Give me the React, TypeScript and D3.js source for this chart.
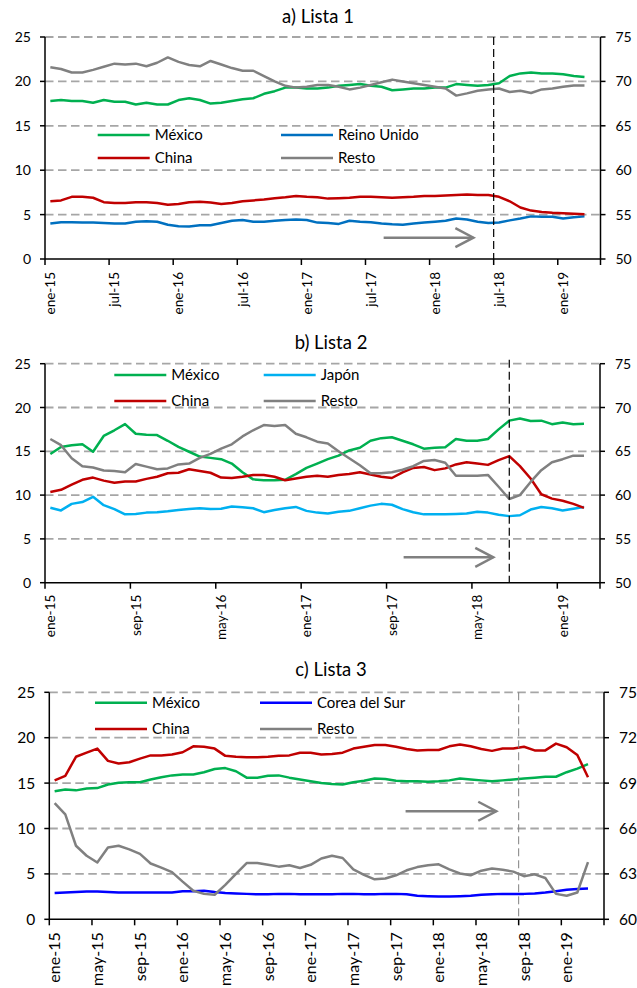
import * as d3 from "d3";

// categorías: ene-15 ... mar-19 (51 meses)
const monthNames = ["ene", "feb", "mar", "abr", "may", "jun", "jul", "ago", "sep", "oct", "nov", "dic"];
const months = d3.range(51).map((i) => `${monthNames[i % 12]}-${15 + Math.floor(i / 12)}`);

const leftTicks = [0, 5, 10, 15, 20, 25];
const rightTicksAB = [50, 55, 60, 65, 70, 75];
const rightTicksC = [60, 63, 66, 69, 72, 75];

// a) Lista 1
const mexico1 = [17.8, 17.9, 17.8, 17.8, 17.6, 17.9, 17.7, 17.7, 17.4, 17.6, 17.4, 17.4, 17.9, 18.1, 17.9, 17.5, 17.6, 17.8, 18.0, 18.1, 18.6, 18.9, 19.3, 19.3, 19.2, 19.2, 19.3, 19.5, 19.6, 19.7, 19.5, 19.4, 19.0, 19.1, 19.2, 19.2, 19.3, 19.3, 19.7, 19.6, 19.5, 19.6, 19.8, 20.6, 20.9, 21.0, 20.9, 20.9, 20.8, 20.6, 20.5];
const reinoUnido1 = [4.0, 4.15, 4.15, 4.1, 4.1, 4.05, 4.0, 4.0, 4.2, 4.25, 4.2, 3.85, 3.7, 3.65, 3.8, 3.8, 4.05, 4.3, 4.4, 4.2, 4.2, 4.3, 4.4, 4.45, 4.4, 4.1, 4.05, 3.95, 4.3, 4.2, 4.15, 4.0, 3.9, 3.85, 4.0, 4.1, 4.2, 4.3, 4.55, 4.45, 4.2, 4.05, 4.1, 4.35, 4.55, 4.8, 4.75, 4.75, 4.55, 4.7, 4.8];
const china1 = [6.5, 6.6, 7.0, 7.0, 6.9, 6.4, 6.3, 6.3, 6.4, 6.4, 6.3, 6.1, 6.2, 6.4, 6.45, 6.35, 6.2, 6.3, 6.5, 6.6, 6.7, 6.85, 6.95, 7.1, 7.0, 6.95, 6.8, 6.85, 6.9, 7.0, 7.0, 6.95, 6.9, 6.95, 7.0, 7.1, 7.1, 7.15, 7.2, 7.25, 7.2, 7.2, 7.0, 6.5, 5.8, 5.45, 5.3, 5.2, 5.15, 5.1, 5.05];
// eje derecho
const resto1 = [71.6, 71.4, 71.0, 71.0, 71.3, 71.65, 72.0, 71.9, 72.0, 71.7, 72.1, 72.7, 72.2, 71.85, 71.7, 72.3, 71.9, 71.5, 71.2, 71.2, 70.6, 70.0, 69.5, 69.3, 69.4, 69.6, 69.6, 69.4, 69.1, 69.3, 69.6, 69.9, 70.2, 70.0, 69.8, 69.6, 69.4, 69.2, 68.4, 68.65, 68.95, 69.1, 69.2, 68.8, 68.95, 68.7, 69.1, 69.2, 69.4, 69.55, 69.55];

// b) Lista 2
const mexico2 = [14.7, 15.5, 15.7, 15.8, 14.95, 16.75, 17.4, 18.1, 17.0, 16.9, 16.85, 16.2, 15.5, 14.95, 14.4, 14.25, 14.1, 13.6, 12.6, 11.8, 11.7, 11.7, 11.75, 12.4, 13.1, 13.6, 14.1, 14.5, 15.1, 15.4, 16.2, 16.5, 16.6, 16.2, 15.8, 15.3, 15.4, 15.45, 16.4, 16.2, 16.2, 16.4, 17.5, 18.5, 18.75, 18.45, 18.5, 18.1, 18.3, 18.1, 18.15];
const japon2 = [8.55, 8.25, 9.0, 9.2, 9.8, 8.85, 8.4, 7.8, 7.85, 8.0, 8.05, 8.15, 8.3, 8.4, 8.5, 8.4, 8.45, 8.7, 8.6, 8.5, 8.05, 8.3, 8.5, 8.65, 8.2, 8.0, 7.9, 8.1, 8.2, 8.5, 8.8, 9.0, 8.9, 8.4, 8.05, 7.8, 7.8, 7.8, 7.85, 7.9, 8.1, 8.0, 7.75, 7.6, 7.7, 8.35, 8.65, 8.5, 8.25, 8.45, 8.65];
const china2 = [10.35, 10.6, 11.2, 11.75, 12.0, 11.65, 11.4, 11.55, 11.55, 11.85, 12.1, 12.5, 12.55, 12.95, 12.75, 12.55, 12.0, 11.95, 12.1, 12.3, 12.3, 12.1, 11.7, 11.9, 12.1, 12.2, 12.1, 12.3, 12.4, 12.6, 12.35, 12.1, 11.95, 12.6, 13.1, 13.2, 12.85, 13.05, 13.5, 13.75, 13.6, 13.45, 14.0, 14.45, 13.3, 11.9, 10.1, 9.6, 9.35, 9.0, 8.55];
const resto2 = [66.4, 65.7, 64.2, 63.3, 63.15, 62.8, 62.75, 62.6, 63.55, 63.25, 62.95, 63.05, 63.5, 63.6, 64.25, 64.7, 65.3, 65.8, 66.7, 67.4, 68.0, 67.9, 68.0, 67.0, 66.6, 66.1, 65.9, 65.0, 64.2, 63.4, 62.5, 62.5, 62.6, 62.9, 63.3, 63.9, 64.0, 63.7, 62.2, 62.2, 62.2, 62.3, 60.95, 59.55, 60.0, 61.5, 62.85, 63.75, 64.1, 64.5, 64.5];

// c) Lista 3
const mexico3 = [14.1, 14.3, 14.2, 14.4, 14.45, 14.85, 15.05, 15.1, 15.1, 15.4, 15.65, 15.85, 15.95, 15.95, 16.2, 16.55, 16.65, 16.3, 15.6, 15.6, 15.8, 15.85, 15.6, 15.4, 15.2, 15.0, 14.9, 14.85, 15.1, 15.25, 15.5, 15.45, 15.25, 15.2, 15.2, 15.15, 15.2, 15.3, 15.5, 15.4, 15.3, 15.2, 15.3, 15.4, 15.5, 15.6, 15.7, 15.7, 16.2, 16.6, 17.1];
const corea3 = [2.9, 2.95, 3.0, 3.05, 3.05, 3.0, 2.95, 2.95, 2.95, 2.95, 2.95, 2.95, 3.1, 3.1, 3.15, 3.0, 2.9, 2.85, 2.8, 2.75, 2.75, 2.8, 2.8, 2.75, 2.75, 2.75, 2.75, 2.8, 2.8, 2.75, 2.75, 2.8, 2.8, 2.75, 2.6, 2.55, 2.5, 2.5, 2.55, 2.6, 2.7, 2.75, 2.8, 2.8, 2.8, 2.85, 2.95, 3.1, 3.25, 3.35, 3.4];
const china3 = [15.3, 15.8, 17.9, 18.35, 18.8, 17.45, 17.15, 17.3, 17.7, 18.05, 18.05, 18.15, 18.4, 19.05, 19.0, 18.8, 18.0, 17.9, 17.85, 17.85, 17.9, 18.0, 18.05, 18.35, 18.35, 18.15, 18.2, 18.35, 18.8, 19.0, 19.2, 19.2, 19.0, 18.75, 18.6, 18.65, 18.65, 19.05, 19.25, 19.05, 18.75, 18.55, 18.8, 18.8, 19.0, 18.6, 18.6, 19.35, 18.95, 18.1, 15.65];
const resto3 = [67.68, 66.93, 64.86, 64.2, 63.75, 64.74, 64.86, 64.62, 64.32, 63.69, 63.42, 63.12, 62.49, 61.89, 61.68, 61.62, 62.28, 63.0, 63.72, 63.72, 63.6, 63.48, 63.57, 63.39, 63.6, 64.02, 64.2, 64.05, 63.3, 62.94, 62.64, 62.7, 62.91, 63.24, 63.45, 63.57, 63.63, 63.3, 63.03, 62.91, 63.21, 63.36, 63.27, 63.15, 62.85, 62.97, 62.73, 61.68, 61.56, 61.77, 63.78];

const FONT = "Lato, 'Open Sans', sans-serif";
const GREEN = "#00B050";
const RED = "#C00000";
const GRAY = "#808080";

type Series = { name: string; values: number[]; color: string; right?: boolean };
type PanelCfg = {
  title: string;
  titleX: number;
  titleY: number;
  left: number;
  right: number;
  top: number;
  bottom: number;
  rightDomain: [number, number];
  rightTicks: number[];
  every: number;
  tickFont: number;
  xFont: number;
  xGap: number;
  series: Series[];
  legend: { x1: number; x2: number; y1: number; y2: number };
  marker: { at: number; color: string; width: number; overshoot: number };
  arrow: { from: number; to: number; y: number };
};

const panels: PanelCfg[] = [
  {
    title: "a) Lista 1", titleX: 318, titleY: 22.5,
    left: 45, right: 600.5, top: 37, bottom: 259,
    rightDomain: [50, 75], rightTicks: rightTicksAB, every: 6, tickFont: 14, xFont: 13.5, xGap: 13,
    series: [
      { name: "México", values: mexico1, color: GREEN },
      { name: "Reino Unido", values: reinoUnido1, color: "#0070C0" },
      { name: "China", values: china1, color: RED },
      { name: "Resto", values: resto1, color: GRAY, right: true },
    ],
    legend: { x1: 97.7, x2: 281, y1: 135, y2: 158 },
    marker: { at: 42, color: "#000", width: 1.2, overshoot: 0 },
    arrow: { from: 31.7, to: 40.1, y: 2.4 },
  },
  {
    title: "b) Lista 2", titleX: 331, titleY: 349,
    left: 45, right: 600, top: 363.7, bottom: 582.7,
    rightDomain: [50, 75], rightTicks: rightTicksAB, every: 8, tickFont: 14, xFont: 13.5, xGap: 12,
    series: [
      { name: "México", values: mexico2, color: GREEN },
      { name: "Japón", values: japon2, color: "#00B0F0" },
      { name: "China", values: china2, color: RED },
      { name: "Resto", values: resto2, color: GRAY, right: true },
    ],
    legend: { x1: 114.3, x2: 263.7, y1: 375, y2: 401 },
    marker: { at: 43.5, color: "#000", width: 1.2, overshoot: 4 },
    arrow: { from: 33.6, to: 42.0, y: 2.9 },
  },
  {
    title: "c) Lista 3", titleX: 331, titleY: 676,
    left: 49.3, right: 604, top: 692.3, bottom: 919.3,
    rightDomain: [60, 75], rightTicks: rightTicksC, every: 4, tickFont: 15.5, xFont: 16, xGap: 13,
    series: [
      { name: "México", values: mexico3, color: GREEN },
      { name: "Corea del Sur", values: corea3, color: "#0000FF" },
      { name: "China", values: china3, color: RED },
      { name: "Resto", values: resto3, color: GRAY, right: true },
    ],
    legend: { x1: 95, x2: 260, y1: 702.7, y2: 729 },
    marker: { at: 44, color: GRAY, width: 1, overshoot: 0 },
    arrow: { from: 33.4, to: 41.9, y: 11.9 },
  },
];

function Panel({ cfg }: { cfg: PanelCfg }) {
  const x = d3.scaleLinear().domain([0, 52]).range([cfg.left, cfg.right]);
  const yL = d3.scaleLinear().domain([0, 25]).range([cfg.bottom, cfg.top]);
  const yR = d3.scaleLinear().domain(cfg.rightDomain).range([cfg.bottom, cfg.top]);
  const xTicks = d3.range(0, months.length, cfg.every);

  const line = (s: Series) =>
    d3.line<number>()
      .x((_, i) => x(i + 0.5))
      .y((d) => (s.right ? yR(d) : yL(d)))(s.values) || "";

  const ax = x(cfg.arrow.from);
  const bx = x(cfg.arrow.to);
  const ay = yL(cfg.arrow.y);
  const mx = x(cfg.marker.at);

  const legendItems = [
    { s: cfg.series[0], lx: cfg.legend.x1, ly: cfg.legend.y1 },
    { s: cfg.series[1], lx: cfg.legend.x2, ly: cfg.legend.y1 },
    { s: cfg.series[2], lx: cfg.legend.x1, ly: cfg.legend.y2 },
    { s: cfg.series[3], lx: cfg.legend.x2, ly: cfg.legend.y2 },
  ];

  return (
    <g fontFamily={FONT}>
      <text x={cfg.titleX} y={cfg.titleY} textAnchor="middle" fontSize={18.5} fill="#000">
        {cfg.title}
      </text>

      {/* rejilla */}
      {leftTicks.filter((t) => t > 0).map((t) => (
        <line key={t} x1={cfg.left} x2={cfg.right} y1={yL(t)} y2={yL(t)}
          stroke="#A6A6A6" strokeWidth={1.8} strokeDasharray="8.5,4.5" />
      ))}

      {/* series */}
      {cfg.series.map((s) => (
        <path key={s.name} d={line(s)} fill="none" stroke={s.color} strokeWidth={2.5}
          strokeLinejoin="round" />
      ))}

      {/* línea vertical */}
      <line x1={mx} x2={mx} y1={cfg.top - cfg.marker.overshoot} y2={cfg.bottom}
        stroke={cfg.marker.color} strokeWidth={cfg.marker.width} strokeDasharray="8,4" />

      {/* flecha */}
      <g stroke={GRAY} strokeWidth={2.5} fill="none">
        <line x1={ax} x2={bx} y1={ay} y2={ay} />
        <polyline points={`${bx - 18},${ay - 9.5} ${bx},${ay} ${bx - 18},${ay + 9.5}`} />
      </g>

      {/* ejes */}
      <g stroke="#000" strokeWidth={1.5}>
        <line x1={cfg.left} x2={cfg.left} y1={cfg.top} y2={cfg.bottom} />
        <line x1={cfg.right} x2={cfg.right} y1={cfg.top} y2={cfg.bottom} />
        <line x1={cfg.left} x2={cfg.right} y1={cfg.bottom} y2={cfg.bottom} />
        {leftTicks.map((t) => (
          <line key={"l" + t} x1={cfg.left - 5} x2={cfg.left} y1={yL(t)} y2={yL(t)} />
        ))}
        {cfg.rightTicks.map((t) => (
          <line key={"r" + t} x1={cfg.right} x2={cfg.right + 5} y1={yR(t)} y2={yR(t)} />
        ))}
        {xTicks.map((i) => (
          <line key={"x" + i} x1={x(i)} x2={x(i)} y1={cfg.bottom} y2={cfg.bottom + 6} />
        ))}
        <line x1={cfg.right} x2={cfg.right} y1={cfg.bottom} y2={cfg.bottom + 6} />
      </g>

      {leftTicks.map((t) => (
        <text key={"lt" + t} x={cfg.left - 14} y={yL(t)} dy="0.36em" textAnchor="end"
          fontSize={cfg.tickFont} fill="#000">{t}</text>
      ))}
      {cfg.rightTicks.map((t) => (
        <text key={"rt" + t} x={cfg.right + 15} y={yR(t)} dy="0.36em" textAnchor="start"
          fontSize={cfg.tickFont} fill="#000">{t}</text>
      ))}
      {xTicks.map((i) => (
        <text key={"xt" + i} transform={`translate(${x(i + 0.5)},${cfg.bottom + cfg.xGap}) rotate(-90)`}
          dy="0.36em" textAnchor="end" fontSize={cfg.xFont} fill="#000">{months[i]}</text>
      ))}

      {/* leyenda */}
      {legendItems.map(({ s, lx, ly }) => (
        <g key={"lg" + s.name}>
          <line x1={lx} x2={lx + 52} y1={ly} y2={ly} stroke={s.color} strokeWidth={2.5} />
          <text x={lx + 57} y={ly} dy="0.36em" fontSize={15} fill="#000">{s.name}</text>
        </g>
      ))}
    </g>
  );
}

export default function App() {
  return (
    <svg width={637} height={988} style={{ position: "absolute", left: 0, top: 0, background: "#fff" }}>
      <rect width={637} height={988} fill="#fff" />
      {panels.map((p) => (
        <Panel key={p.title} cfg={p} />
      ))}
    </svg>
  );
}
